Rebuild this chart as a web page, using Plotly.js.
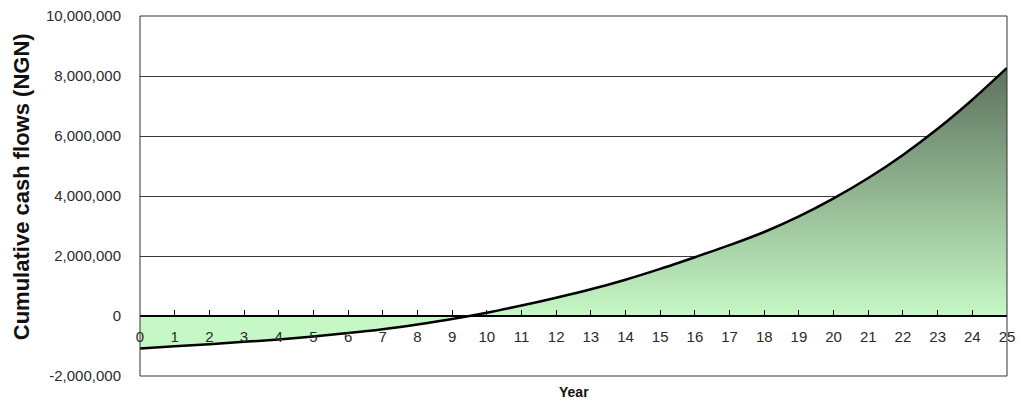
<!DOCTYPE html>
<html>
<head>
<meta charset="utf-8">
<script src="https://cdn.plot.ly/plotly-3.0.1.min.js"></script>
<style>html,body{margin:0;padding:0;background:#fff;}#chart{width:1021px;height:405px;}</style>
</head>
<body>
<div id="chart"></div>
<script>
const years = [0,1,2,3,4,5,6,7,8,9,10,11,12,13,14,15,16,17,18,19,20,21,22,23,24,25];
const cumulativeCash = [-1080000,-1010000,-940000,-860000,-780000,-680000,-570000,-440000,-280000,-100000,
  110000,350000,610000,890000,1210000,1570000,1960000,2360000,2800000,3320000,
  3920000,4600000,5370000,6240000,7210000,8270000];
const yTickVals = [-2000000,0,2000000,4000000,6000000,8000000,10000000];
const yTickText = ["-2,000,000","0","2,000,000","4,000,000","6,000,000","8,000,000","10,000,000"];
const xTitle = "Year";
const yTitle = "Cumulative cash flows (NGN)";

const FONT = "Liberation Sans, Arial, sans-serif";
const maxVal = Math.max.apply(null, cumulativeCash);

const trace = {
  x: years,
  y: cumulativeCash,
  type: 'scatter',
  mode: 'lines',
  line: {color: '#000', width: 2.5, shape: 'spline', smoothing: 0.8},
  fill: 'tozeroy',
  fillgradient: {
    type: 'vertical',
    start: 0,
    stop: maxVal,
    colorscale: [[0, '#c6f8c6'], [1, '#5c725c']]
  },
  hoverinfo: 'skip'
};

const layout = {
  width: 1021,
  height: 405,
  margin: {l: 140, r: 14, t: 16, b: 29},
  paper_bgcolor: '#fff',
  plot_bgcolor: '#fff',
  showlegend: false,
  font: {family: FONT, size: 15, color: '#222'},
  xaxis: {
    range: [0, 25],
    tickvals: years,
    ticktext: years.map(String),
    anchor: 'free',
    position: 1/6,
    showline: true,
    linecolor: '#000',
    linewidth: 2,
    ticks: 'inside',
    ticklen: 5,
    tickwidth: 1,
    tickcolor: '#000',
    showgrid: false,
    zeroline: false,
    ticklabelstandoff: 7,
    tickfont: {family: FONT, size: 15, color: '#2a2a2a'},
    fixedrange: true
  },
  yaxis: {
    range: [-2000000, 10000000],
    tickvals: yTickVals,
    ticktext: yTickText,
    showgrid: true,
    gridcolor: '#3c3c3c',
    gridwidth: 1,
    zeroline: false,
    showline: false,
    ticks: '',
    ticklabelstandoff: 18,
    tickfont: {family: FONT, size: 15, color: '#2a2a2a'},
    fixedrange: true
  },
  shapes: [{
    type: 'rect', xref: 'paper', yref: 'paper', x0: 0, x1: 1, y0: 0, y1: 1,
    line: {color: '#333', width: 1}, layer: 'above'
  }],
  annotations: [
    {text: '<b>' + xTitle + '</b>', xref: 'paper', yref: 'paper', x: 0.5, y: -0.045,
     xanchor: 'center', yanchor: 'middle', showarrow: false,
     font: {family: FONT, size: 14, color: '#111'}},
    {text: '<b>' + yTitle + '</b>', xref: 'paper', yref: 'paper', x: -0.137, y: 0.525,
     xanchor: 'center', yanchor: 'middle', showarrow: false, textangle: -90,
     font: {family: FONT, size: 22, color: '#111'}}
  ]
};

Plotly.newPlot('chart', [trace], layout, {displayModeBar: false, staticPlot: true});
</script>
</body>
</html>
